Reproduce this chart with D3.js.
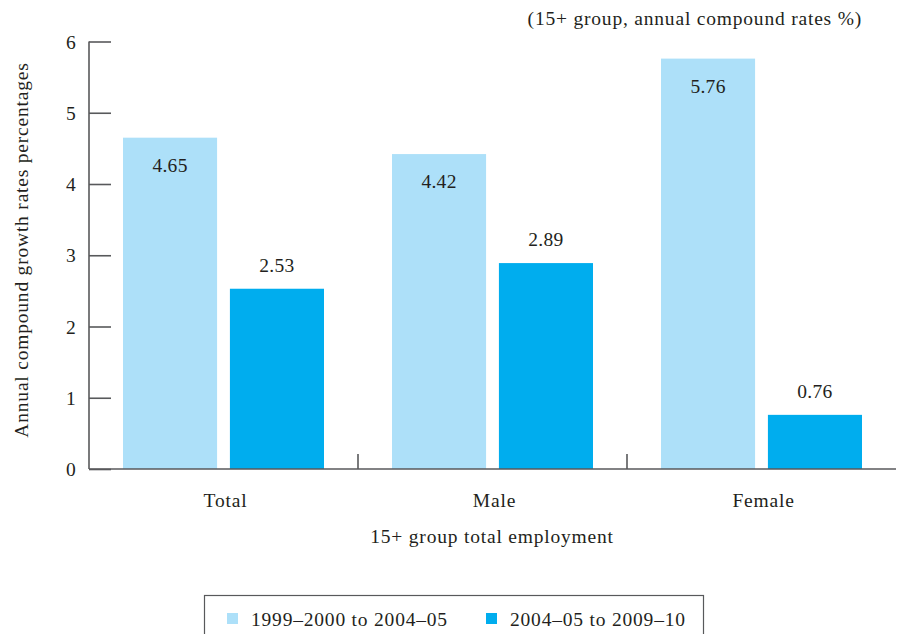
<!DOCTYPE html>
<html>
<head>
<meta charset="utf-8">
<script src="https://cdn.jsdelivr.net/npm/d3@7"></script>
<style>
  html, body { margin: 0; padding: 0; background: #fff; }
  svg { display: block; }
  text { font-family: "Liberation Serif", "DejaVu Serif", serif; fill: #231f20; font-size: 19.5px; letter-spacing: 0.8px; }
  text.num { letter-spacing: 0.3px; }
</style>
</head>
<body>
<svg id="chart" width="901" height="634"></svg>
<script>
// Employment growth, 15+ age group
const categories = ["Total", "Male", "Female"];
const seriesNames = ["1999\u20132000 to 2004\u201305", "2004\u201305 to 2009\u201310"];
const period1 = [4.65, 4.42, 5.76];
const period2 = [2.53, 2.89, 0.76];
const yTicks = [0, 1, 2, 3, 4, 5, 6];
const colors = ["#ade0f9", "#00adee"];

(function () {
const svg = d3.select("#chart");
const plotLeft = 89, plotRight = 896, plotTop = 41.5, plotBottom = 469;

const x = d3.scaleBand().domain(categories).range([plotLeft, plotRight]).paddingInner(0).paddingOuter(0);
const inner = d3.scaleBand().domain([0, 1]).range([34, x.bandwidth() - 34]).paddingInner(0.12);
const y = d3.scaleLinear().domain([0, 6]).range([plotBottom, plotTop]);

const axisColor = "#58595b";

// bars
const rows = categories.map((c, i) => ({ c, vals: [period1[i], period2[i]] }));
const g = svg.append("g");
rows.forEach(r => {
  r.vals.forEach((v, k) => {
    g.append("rect")
      .attr("x", x(r.c) + inner(k))
      .attr("y", y(v))
      .attr("width", inner.bandwidth())
      .attr("height", y(0) - y(v))
      .attr("fill", colors[k]);
    // first-period labels sit inside the bar top, second-period labels above it
    const ly = k === 0 ? y(v) + 34 : y(v) - 17;
    g.append("text")
      .attr("class", "num")
      .attr("x", x(r.c) + inner(k) + inner.bandwidth() / 2)
      .attr("y", ly)
      .attr("text-anchor", "middle")
      .text(v.toFixed(2));
  });
});

// y axis with inward ticks
const yAxis = d3.axisRight(y).tickValues(yTicks).tickSize(22).tickFormat("");
const ya = svg.append("g").attr("transform", `translate(${plotLeft},0)`).call(yAxis);
ya.select(".domain").remove();
ya.selectAll("line").attr("stroke", axisColor).attr("stroke-width", 1.6);
svg.append("line").attr("x1", plotLeft).attr("x2", plotLeft).attr("y1", plotTop).attr("y2", plotBottom)
  .attr("stroke", axisColor).attr("stroke-width", 1.6);
yTicks.forEach(t => {
  svg.append("text").attr("class", "num").attr("x", 71).attr("y", y(t) + 7).attr("text-anchor", "middle")
    .text(t);
});

// x axis baseline and separator ticks between categories
svg.append("line").attr("x1", plotLeft).attr("x2", plotRight).attr("y1", plotBottom).attr("y2", plotBottom)
  .attr("stroke", axisColor).attr("stroke-width", 1.6);
categories.slice(1).forEach(c => {
  svg.append("line").attr("x1", x(c)).attr("x2", x(c)).attr("y1", plotBottom - 15).attr("y2", plotBottom)
    .attr("stroke", axisColor).attr("stroke-width", 1.6);
});
categories.forEach(c => {
  svg.append("text").attr("x", x(c) + x.bandwidth() / 2 + 2).attr("y", 507)
    .attr("text-anchor", "middle").text(c);
});

// axis titles
svg.append("text").attr("x", 492).attr("y", 543).attr("text-anchor", "middle")
  .text("15+ group total employment");
svg.append("text").attr("transform", "translate(28,250) rotate(-90)")
  .attr("text-anchor", "middle")
  .text("Annual compound growth rates percentages");
svg.append("text").attr("x", 862).attr("y", 25).attr("text-anchor", "end")
  .text("(15+ group, annual compound rates %)");

// legend
svg.append("rect").attr("x", 204.5).attr("y", 595.5).attr("width", 499).attr("height", 45)
  .attr("fill", "none").attr("stroke", axisColor).attr("stroke-width", 1.2);
const legendX = [227, 486];
seriesNames.forEach((s, k) => {
  svg.append("rect").attr("x", legendX[k]).attr("y", 613).attr("width", 11).attr("height", 11)
    .attr("fill", colors[k]);
  svg.append("text").attr("x", legendX[k] + 24).attr("y", 626).text(s);
});
})();
</script>
</body>
</html>
